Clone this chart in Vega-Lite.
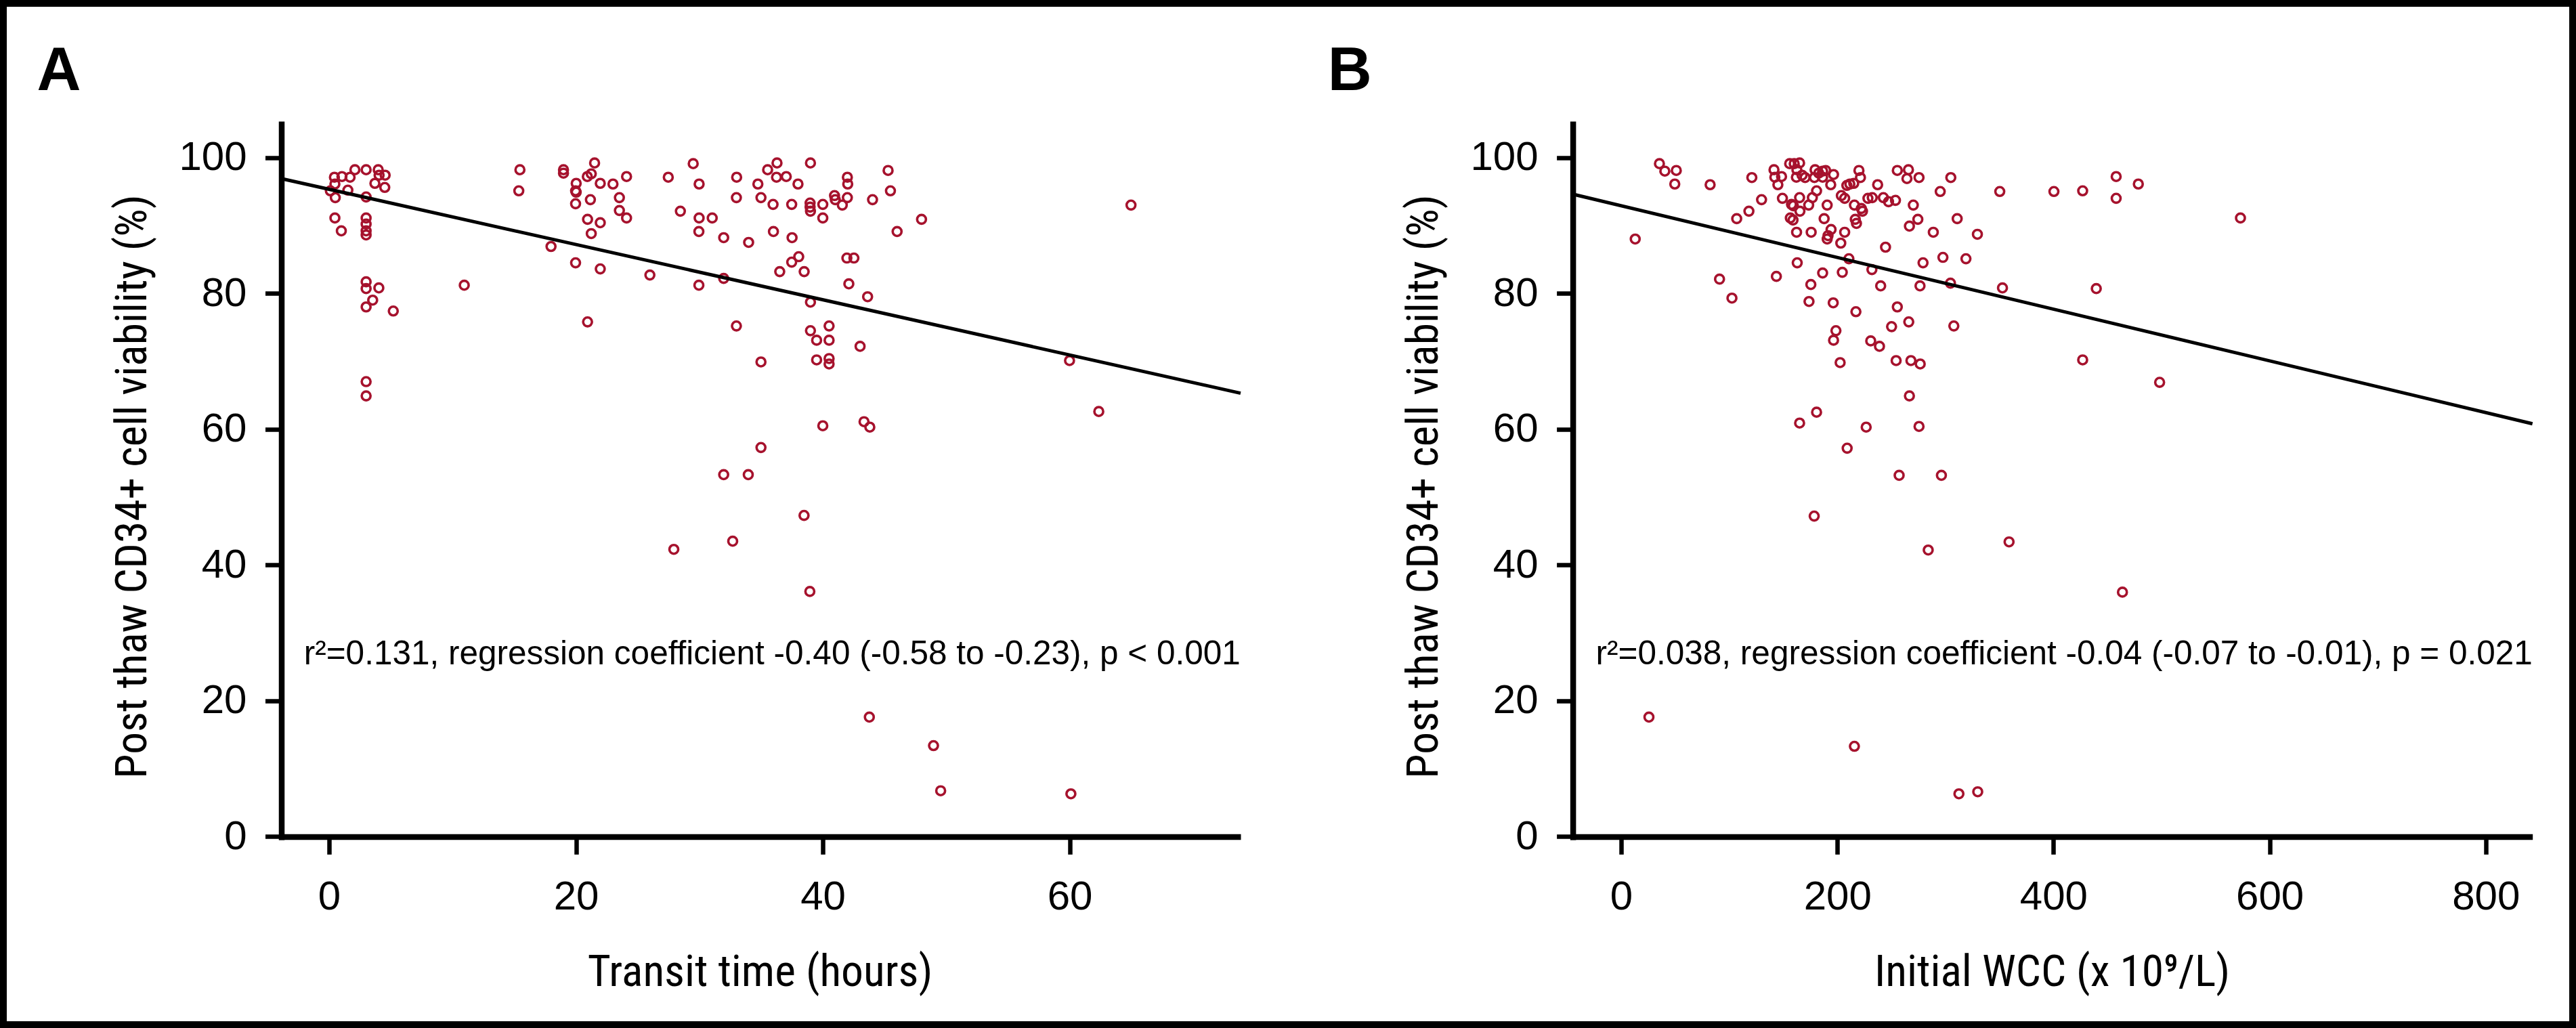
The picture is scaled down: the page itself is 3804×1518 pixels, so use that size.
{
"$schema": "https://vega.github.io/schema/vega-lite/v6.json",
"width": 3804, "height": 1518, "autosize": "none", "padding": 0,
"background": "white",
"config": {
 "view": {"stroke": "black", "strokeWidth": 20, "fill": "white"},
 "axis": {"grid": false, "domainColor": "black", "tickColor": "black", "labelColor": "black", "titleColor": "black", "domainWidth": 8.5, "tickWidth": 6.5, "labelFont": "Liberation Sans", "labelFontSize": 60, "titleFont": "Roboto Condensed, Liberation Sans Narrow, Noto Sans Condensed, DejaVu Sans Condensed, Liberation Sans, sans-serif", "titleFontSize": 65.5, "titleFontWeight": "normal", "labelFlush": false, "labelOverlap": false}
},
"datasets": {
 "transit": [
{"t":0.10,"v":95.1},{"t":0.43,"v":97.1},{"t":1.04,"v":97.2},{"t":0.47,"v":96.1},{"t":0.50,"v":94.1},{"t":1.52,"v":95.2},{"t":1.70,"v":97.1},{"t":2.09,"v":98.2},{"t":3.0,"v":98.2},{"t":3.0,"v":94.2},
{"t":3.98,"v":98.2},{"t":4.05,"v":97.4},{"t":4.54,"v":97.4},{"t":3.71,"v":96.2},{"t":4.51,"v":95.6},{"t":0.47,"v":91.1},{"t":0.99,"v":89.2},{"t":3.0,"v":91.1},{"t":3.0,"v":90.2},{"t":3.0,"v":89.2},
{"t":3.0,"v":88.6},{"t":3.0,"v":81.7},{"t":3.0,"v":80.7},{"t":4.03,"v":80.8},{"t":3.53,"v":79.0},{"t":3.0,"v":78.0},{"t":5.20,"v":77.4},{"t":3.0,"v":67.0},{"t":3.0,"v":64.9},{"t":10.95,"v":81.2},
{"t":15.46,"v":98.2},{"t":15.37,"v":95.1},{"t":18.99,"v":98.2},{"t":18.99,"v":97.7},{"t":21.51,"v":99.2},{"t":20.02,"v":96.2},{"t":20.92,"v":97.2},{"t":21.24,"v":97.6},{"t":21.97,"v":96.2},{"t":23.0,"v":96.1},
{"t":24.1,"v":97.2},{"t":19.97,"v":95.1},{"t":20.02,"v":94.9},{"t":21.17,"v":93.8},{"t":19.97,"v":93.2},{"t":23.52,"v":94.1},{"t":23.52,"v":92.2},{"t":24.1,"v":91.1},{"t":20.94,"v":90.9},{"t":21.97,"v":90.4},
{"t":21.24,"v":88.8},{"t":17.98,"v":86.9},{"t":19.97,"v":84.5},{"t":21.97,"v":83.6},{"t":25.99,"v":82.7},{"t":20.94,"v":75.8},{"t":27.48,"v":97.1},{"t":29.5,"v":99.1},{"t":29.98,"v":96.1},{"t":33.02,"v":97.1},
{"t":33.0,"v":94.1},{"t":28.46,"v":92.1},{"t":29.98,"v":91.1},{"t":31.04,"v":91.1},{"t":29.96,"v":89.1},{"t":31.97,"v":88.2},{"t":33.99,"v":87.5},{"t":31.97,"v":82.2},{"t":29.96,"v":81.2},{"t":33.0,"v":75.2},
{"t":31.97,"v":53.3},{"t":33.96,"v":53.3},{"t":35.53,"v":98.2},{"t":36.29,"v":99.2},{"t":36.25,"v":97.1},{"t":37.04,"v":97.2},{"t":34.74,"v":96.1},{"t":37.99,"v":96.1},{"t":39.0,"v":99.2},{"t":34.99,"v":94.1},
{"t":35.97,"v":93.1},{"t":37.48,"v":93.1},{"t":38.97,"v":93.3},{"t":38.97,"v":92.7},{"t":39.0,"v":92.1},{"t":40.0,"v":93.1},{"t":40.95,"v":94.4},{"t":41.01,"v":93.8},{"t":41.58,"v":93.0},{"t":41.99,"v":97.1},
{"t":42.02,"v":96.1},{"t":41.99,"v":94.1},{"t":44.03,"v":93.8},{"t":45.29,"v":98.1},{"t":45.48,"v":95.1},{"t":48.0,"v":90.9},{"t":64.97,"v":93.0},{"t":40.0,"v":91.1},{"t":36.0,"v":89.1},{"t":37.51,"v":88.2},
{"t":46.02,"v":89.1},{"t":38.05,"v":85.4},{"t":37.48,"v":84.6},{"t":36.51,"v":83.2},{"t":38.49,"v":83.2},{"t":41.95,"v":85.2},{"t":42.52,"v":85.2},{"t":42.11,"v":81.4},{"t":43.63,"v":79.5},{"t":39.0,"v":78.7},
{"t":39.0,"v":74.5},{"t":40.51,"v":75.2},{"t":39.5,"v":73.1},{"t":40.51,"v":73.1},{"t":43.02,"v":72.2},{"t":39.5,"v":70.2},{"t":40.51,"v":70.4},{"t":40.51,"v":69.6},{"t":59.99,"v":70.1},{"t":62.36,"v":62.6},
{"t":40.0,"v":60.5},{"t":43.34,"v":61.1},{"t":43.81,"v":60.3},{"t":32.7,"v":43.5},{"t":27.93,"v":42.3},{"t":38.95,"v":36.1},{"t":43.77,"v":17.6},{"t":48.97,"v":13.4},{"t":49.55,"v":6.75},{"t":60.1,"v":6.3},
{"t":34.99,"v":69.9},{"t":34.99,"v":57.3},{"t":38.48,"v":47.3}
 ],
 "wcc": [
{"w":35.4,"v":99.1},{"w":40.4,"v":98.0},{"w":51.0,"v":98.1},{"w":49.6,"v":96.1},{"w":82.3,"v":96.0},{"w":13.0,"v":88.0},{"w":106.9,"v":91.0},{"w":118.2,"v":92.1},{"w":129.9,"v":93.8},{"w":120.9,"v":97.05},
{"w":141.4,"v":98.2},{"w":142.2,"v":97.1},{"w":148.4,"v":97.2},{"w":145.0,"v":96.0},{"w":149.2,"v":94.0},{"w":155.9,"v":99.1},{"w":160.1,"v":99.1},{"w":165.1,"v":99.2},{"w":162.6,"v":98.2},{"w":162.1,"v":97.1},
{"w":167.4,"v":97.4},{"w":170.2,"v":97.05},{"w":179.4,"v":98.2},{"w":182.8,"v":97.7},{"w":186.4,"v":98.0},{"w":189.2,"v":98.1},{"w":178.8,"v":97.05},{"w":186.4,"v":97.1},{"w":196.5,"v":97.5},{"w":193.9,"v":96.0},
{"w":180.8,"v":95.1},{"w":176.9,"v":94.1},{"w":165.1,"v":94.1},{"w":157.6,"v":93.1},{"w":159.3,"v":92.9},{"w":173.5,"v":93.0},{"w":165.4,"v":92.1},{"w":156.5,"v":91.1},{"w":159.0,"v":90.8},{"w":162.3,"v":89.0},
{"w":175.8,"v":89.0},{"w":190.6,"v":93.0},{"w":187.8,"v":91.0},{"w":194.2,"v":89.4},{"w":191.4,"v":88.5},{"w":190.6,"v":88.0},{"w":206.8,"v":89.0},{"w":203.2,"v":87.4},{"w":203.7,"v":94.4},{"w":206.8,"v":94.0},
{"w":208.8,"v":95.9},{"w":211.6,"v":96.1},{"w":215.2,"v":96.2},{"w":220.0,"v":98.1},{"w":221.4,"v":97.05},{"w":215.8,"v":93.0},{"w":222.2,"v":92.5},{"w":223.3,"v":92.1},{"w":216.6,"v":90.9},{"w":217.7,"v":90.3},
{"w":228.3,"v":94.0},{"w":232.3,"v":94.1},{"w":237.3,"v":96.0},{"w":242.6,"v":94.1},{"w":247.4,"v":93.5},{"w":253.8,"v":93.7},{"w":255.5,"v":98.1},{"w":265.8,"v":98.2},{"w":264.4,"v":96.9},{"w":275.6,"v":97.05},
{"w":305.0,"v":97.05},{"w":295.2,"v":95.0},{"w":350.3,"v":95.0},{"w":400.4,"v":95.0},{"w":270.3,"v":93.0},{"w":274.5,"v":90.9},{"w":266.7,"v":89.9},{"w":288.8,"v":89.0},{"w":310.9,"v":91.0},{"w":329.6,"v":88.7},
{"w":244.6,"v":86.8},{"w":210.7,"v":85.1},{"w":232.0,"v":83.5},{"w":279.3,"v":84.5},{"w":297.7,"v":85.3},{"w":319.0,"v":85.1},{"w":162.9,"v":84.5},{"w":91.0,"v":82.1},{"w":102.5,"v":79.3},{"w":143.6,"v":82.5},
{"w":186.4,"v":83.0},{"w":204.6,"v":83.1},{"w":175.5,"v":81.3},{"w":240.1,"v":81.1},{"w":276.5,"v":81.1},{"w":304.7,"v":81.5},{"w":352.8,"v":80.8},{"w":173.8,"v":78.8},{"w":196.2,"v":78.6},{"w":217.2,"v":77.3},
{"w":255.5,"v":78.0},{"w":250.2,"v":75.1},{"w":266.1,"v":75.8},{"w":307.8,"v":75.2},{"w":198.7,"v":74.5},{"w":196.5,"v":73.1},{"w":230.9,"v":73.0},{"w":239.0,"v":72.2},{"w":202.6,"v":69.8},{"w":254.4,"v":70.1},
{"w":268.1,"v":70.1},{"w":276.7,"v":69.6},{"w":266.7,"v":64.9},{"w":180.8,"v":62.5},{"w":165.1,"v":60.9},{"w":226.7,"v":60.3},{"w":275.6,"v":60.4},{"w":209.1,"v":57.2},{"w":257.2,"v":53.2},{"w":296.3,"v":53.2},
{"w":178.6,"v":47.2},{"w":427.0,"v":95.1},{"w":458.0,"v":97.2},{"w":458.0,"v":94.0},{"w":478.5,"v":96.1},{"w":573.0,"v":91.1},{"w":439.6,"v":80.7},{"w":427.0,"v":70.2},{"w":498.2,"v":66.9},{"w":284.1,"v":42.2},
{"w":358.9,"v":43.4},{"w":463.8,"v":36.0},{"w":25.7,"v":17.6},{"w":215.8,"v":13.3},{"w":312.5,"v":6.3},{"w":329.9,"v":6.6}
 ],
 "fitA": [{"t":-3.87,"v":96.9},{"t":73.85,"v":65.3}],
 "fitB": [{"w":-44.7,"v":94.6},{"w":843.17,"v":60.8}],
 "noteA": [{"label": "r²=0.131, regression coefficient -0.40 (-0.58 to -0.23), p < 0.001"}],
 "noteB": [{"label": "r²=0.038, regression coefficient -0.04 (-0.07 to -0.01), p = 0.021"}],
 "tagA": [{"panel": "A"}],
 "tagB": [{"panel": "B"}]
},
"layer": [
 {
  "layer": [
   {"data": {"name": "transit"},
    "mark": {"type": "point", "shape": "circle", "filled": false, "size": 170, "strokeWidth": 3.6, "color": "#a6122d", "opacity": 1},
    "encoding": {
     "x": {"field": "t", "type": "quantitative"},
     "y": {"field": "v", "type": "quantitative"}
    }},
   {"data": {"name": "fitA"},
    "mark": {"type": "line", "color": "black", "strokeWidth": 5},
    "encoding": {
     "x": {"field": "t", "type": "quantitative"},
     "y": {"field": "v", "type": "quantitative"}
    }},
   {"data": {"name": "noteA"},
    "mark": {"type": "text", "font": "Liberation Sans", "fontSize": 49.5, "align": "center", "baseline": "alphabetic", "color": "black"},
    "encoding": {
     "x": {"datum": 35.9, "type": "quantitative"},
     "y": {"datum": 25.34, "type": "quantitative"},
     "text": {"field": "label"}
    }},
   {"data": {"name": "tagA"},
    "mark": {"type": "text", "font": "Liberation Sans", "fontSize": 90, "fontWeight": "bold", "align": "left", "baseline": "alphabetic", "color": "black"},
    "encoding": {
     "x": {"datum": -23.68, "type": "quantitative"},
     "y": {"datum": 109.97, "type": "quantitative"},
     "text": {"field": "panel"}
    }}
  ],
  "encoding": {
   "x": {"type": "quantitative",
     "scale": {"domain": [-4.087, 73.85], "range": [411.5, 1832], "nice": false, "zero": false},
     "axis": {"orient": "bottom", "offset": -282.6, "values": [0, 20, 40, 60], "title": "Transit time (hours)", "tickSize": 26, "labelPadding": 33.6, "titleX": 1122, "titleY": 219.6, "titleBaseline": "alphabetic", "titleAlign": "center"}},
   "y": {"type": "quantitative",
     "scale": {"domain": [-0.46, 105.35], "range": [1240, 179], "nice": false, "zero": false},
     "axis": {"orient": "left", "offset": -415.5, "values": [0, 20, 40, 60, 80, 100], "title": "Post thaw CD34+ cell viability (%)", "tickSize": 24, "labelPadding": 27.5, "titleX": -200, "titleY": 718, "titleAngle": -90, "titleBaseline": "alphabetic", "titleAlign": "center"}}
  }
 },
 {
  "layer": [
   {"data": {"name": "wcc"},
    "mark": {"type": "point", "shape": "circle", "filled": false, "size": 170, "strokeWidth": 3.6, "color": "#a6122d", "opacity": 1},
    "encoding": {
     "x": {"field": "w", "type": "quantitative"},
     "y": {"field": "v", "type": "quantitative"}
    }},
   {"data": {"name": "fitB"},
    "mark": {"type": "line", "color": "black", "strokeWidth": 5},
    "encoding": {
     "x": {"field": "w", "type": "quantitative"},
     "y": {"field": "v", "type": "quantitative"}
    }},
   {"data": {"name": "noteB"},
    "mark": {"type": "text", "font": "Liberation Sans", "fontSize": 49.5, "align": "center", "baseline": "alphabetic", "color": "black"},
    "encoding": {
     "x": {"datum": 409.9, "type": "quantitative"},
     "y": {"datum": 25.34, "type": "quantitative"},
     "text": {"field": "label"}
    }},
   {"data": {"name": "tagB"},
    "mark": {"type": "text", "font": "Liberation Sans", "fontSize": 90, "fontWeight": "bold", "align": "left", "baseline": "alphabetic", "color": "black"},
    "encoding": {
     "x": {"datum": -271.5, "type": "quantitative"},
     "y": {"datum": 109.97, "type": "quantitative"},
     "text": {"field": "panel"}
    }}
  ],
  "encoding": {
   "x": {"type": "quantitative",
     "scale": {"domain": [-47.24, 843.17], "range": [2318.6, 3739.7], "nice": false, "zero": false},
     "axis": {"orient": "bottom", "offset": -282.6, "values": [0, 200, 400, 600, 800], "title": "Initial WCC (x 10⁹/L)", "tickSize": 26, "labelPadding": 33.6, "titleX": 3030, "titleY": 219.6, "titleBaseline": "alphabetic", "titleAlign": "center"}},
   "y": {"type": "quantitative",
     "scale": {"domain": [-0.46, 105.35], "range": [1240, 179], "nice": false, "zero": false},
     "axis": {"orient": "left", "offset": -2322.6, "values": [0, 20, 40, 60, 80, 100], "title": "Post thaw CD34+ cell viability (%)", "tickSize": 24, "labelPadding": 27.5, "titleX": -200, "titleY": 718, "titleAngle": -90, "titleBaseline": "alphabetic", "titleAlign": "center"}}
  }
 }
],
"resolve": {"scale": {"x": "independent", "y": "independent"}, "axis": {"x": "independent", "y": "independent"}}
}
